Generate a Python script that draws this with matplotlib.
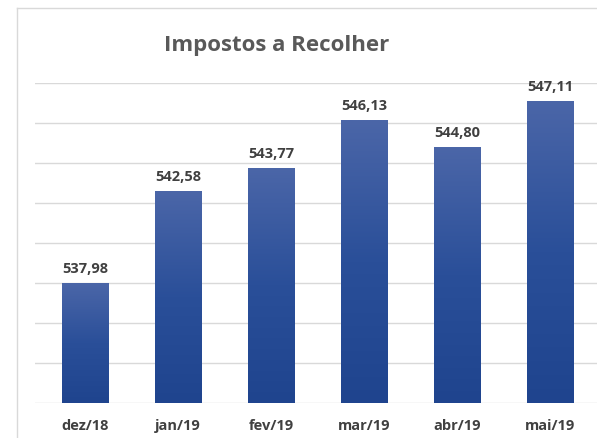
import numpy as np
import matplotlib.pyplot as plt
from matplotlib.colors import LinearSegmentedColormap
from matplotlib.lines import Line2D

months = ['dez/18', 'jan/19', 'fev/19', 'mar/19', 'abr/19', 'mai/19']
values = [537.98, 542.58, 543.77, 546.13, 544.80, 547.11]
labels = ['537,98', '542,58', '543,77', '546,13', '544,80', '547,11']

y_min, y_max, y_step = 532, 548, 2

plt.rcParams['font.family'] = ['Open Sans', 'DejaVu Sans']

fig = plt.figure(figsize=(5.97, 4.38), dpi=100)
ax = fig.add_axes([35 / 597, 35 / 438, 565 / 597, 320 / 438])

# frame of the original chart box (only top and left edges visible)
fig.add_artist(Line2D([17 / 597, 17 / 597], [0, 1 - 8 / 438], transform=fig.transFigure,
                      color='#d9d9d9', lw=1))
fig.add_artist(Line2D([17 / 597, 1], [1 - 8 / 438, 1 - 8 / 438], transform=fig.transFigure,
                      color='#d9d9d9', lw=1))

cmap = LinearSegmentedColormap.from_list('bar', ['#1f448e', '#2a4f99', '#4b66a8'])
grad = np.linspace(0, 1, 256).reshape(-1, 1)

x = np.arange(len(months))
bars = ax.bar(x, [v - y_min for v in values], bottom=y_min, width=0.5,
              color='none', edgecolor='none', zorder=3)
for b in bars:
    x0, y0 = b.get_x(), b.get_y()
    im = ax.imshow(grad, cmap=cmap, origin='lower', aspect='auto',
                   extent=[x0, x0 + b.get_width(), y0, y0 + b.get_height()], zorder=3)
    im.set_clip_path(b)

for xi, v, lab in zip(x, values, labels):
    ax.text(xi, v + 0.35, lab, ha='center', va='bottom', fontsize=10.5,
            fontweight='bold', color='#404040')

ax.set_xlim(-0.54, 5.54)
ax.set_ylim(y_min, y_max)
ax.set_yticks(np.arange(y_min, y_max + 1, y_step))
ax.yaxis.grid(True, color='#d9d9d9', lw=1)
ax.set_axisbelow(True)
ax.tick_params(axis='y', left=False, labelleft=False)
ax.tick_params(axis='x', bottom=False, pad=8)
ax.set_xticks(x)
ax.set_xticklabels(months, fontsize=10.5, fontweight='bold', color='#404040')
for s in ax.spines.values():
    s.set_visible(False)

fig.text(277 / 597, 1 - 45 / 438, 'Impostos a Recolher', ha='center', va='center',
         fontsize=16, fontweight='bold', color='#595959')

fig.savefig('out.png', dpi=100)
